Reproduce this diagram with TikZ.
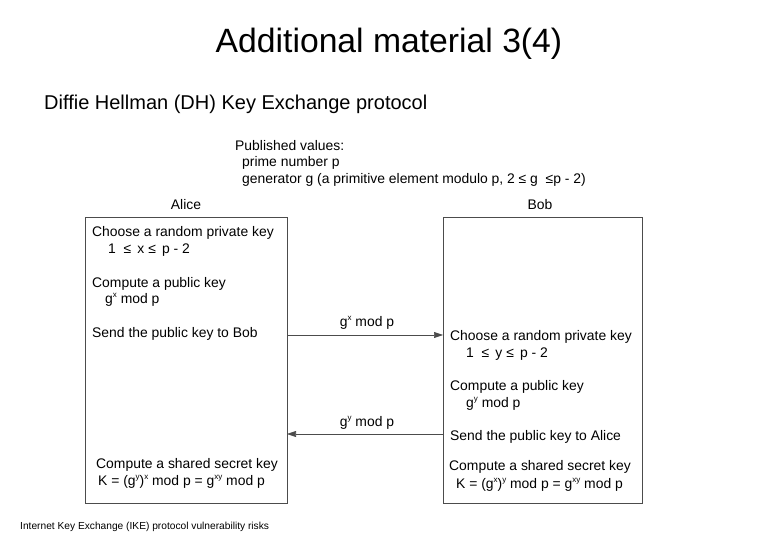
\documentclass[tikz,border=0pt]{standalone}
\usepackage{fontspec}
\setmainfont{Liberation Sans}
\usetikzlibrary{arrows.meta}
\newcommand{\sps}[1]{\raisebox{0.9ex}{\fontsize{8}{9}\selectfont #1}}
\begin{document}
\begin{tikzpicture}[x=1pt,y=-1pt,
  t/.style={anchor=west,inner sep=0pt,font=\fontsize{13.9}{16}\selectfont},
  box/.style={draw=black!70,line width=0.6pt},
  msg/.style={draw=black!70,line width=0.6pt,-{Triangle[length=9pt,width=6pt]}}]
\useasboundingbox (0,0) rectangle (780,540);
\node[inner sep=0pt,font=\fontsize{33.7}{38}\selectfont] (title) at (389,44) {Additional material 3(4)};
\node[t,font=\fontsize{20}{24}\selectfont] (sub) at (44,104) {Diffie Hellman (DH) Key Exchange protocol};
\node[t] (pv1) at (235,146) {Published values:};
\node[t] (pv2) at (242,163) {prime number p};
\node[t] (pv3) at (242,180) {generator g (a primitive element modulo p, 2 ≤ g\ \ ≤p - 2)};
\node[t,anchor=center] (alice) at (186,205) {Alice};
\node[t,anchor=center] (bob) at (540,205) {Bob};
\draw[box] (85,217) rectangle (287,503);
\draw[box] (443,217) rectangle (642,503);
\coordinate (a1) at (287,335); \coordinate (b1) at (443,335);
\coordinate (a2) at (287,434); \coordinate (b2) at (443,434);
\draw[msg] (a1) -- (b1);
\draw[msg] (b2) -- (a2);
\node[t,anchor=center] (m1) at (367,323) {g\sps{x} mod p};
\node[t,anchor=center] (m2) at (367,423) {g\sps{y} mod p};
\node[t] (al1) at (92,233) {Choose a random private key};
\node[t] (al2) at (108,250) {1 \ ≤ \,x ≤ \,p - 2};
\node[t] (al3) at (92,284) {Compute a public key};
\node[t] (al4) at (105,300) {g\sps{x} mod p};
\node[t] (al5) at (92,334) {Send the public key to Bob};
\node[t] (al6) at (96,465) {Compute a shared secret key};
\node[t] (al7) at (98,482) {K = (g\sps{y})\sps{x} mod p = g\sps{xy} mod p};
\node[t] (bo1) at (450,337) {Choose a random private key};
\node[t] (bo2) at (466,354) {1 \ ≤ \,y ≤ \,p - 2};
\node[t] (bo3) at (450,387) {Compute a public key};
\node[t] (bo4) at (466,404) {g\sps{y} mod p};
\node[t] (bo5) at (450,437) {Send the public key to Alice};
\node[t] (bo6) at (449,467) {Compute a shared secret key};
\node[t] (bo7) at (456,485) {K = (g\sps{x})\sps{y} mod p = g\sps{xy} mod p};
\node[t,font=\fontsize{10.2}{12}\selectfont] (foot) at (20,527) {Internet Key Exchange (IKE) protocol vulnerability risks};
\end{tikzpicture}
\end{document}
